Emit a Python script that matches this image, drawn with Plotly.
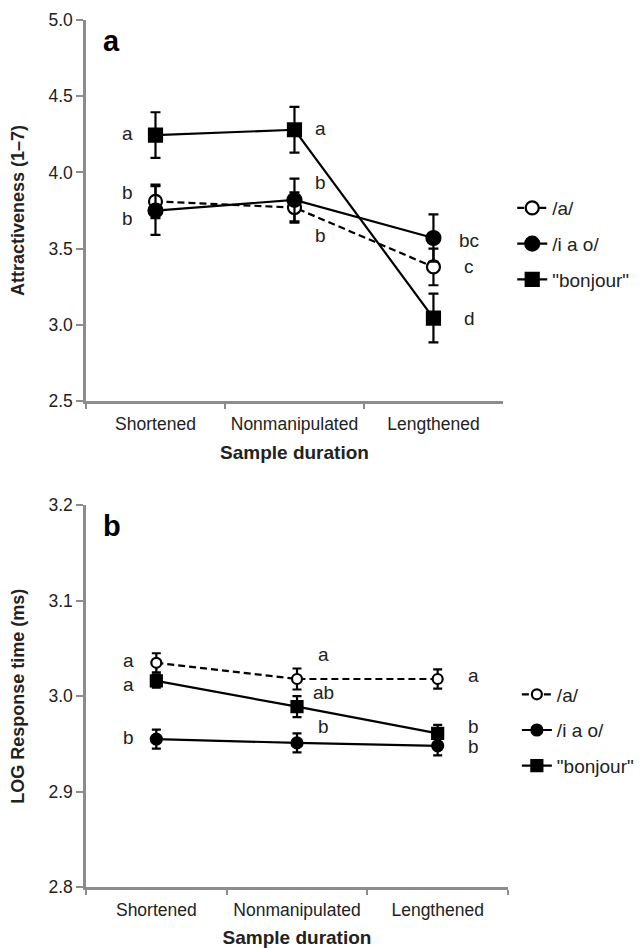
import plotly.graph_objects as go

categories = ["Shortened", "Nonmanipulated", "Lengthened"]
series_names = ["/a/", "/i a o/", "\"bonjour\""]

# Panel a: attractiveness
attr_a = [3.81, 3.77, 3.38]
attr_a_err = [0.11, 0.10, 0.12]
attr_iao = [3.75, 3.82, 3.57]
attr_iao_err = [0.16, 0.14, 0.155]
attr_bonjour = [4.245, 4.28, 3.045]
attr_bonjour_err = [0.15, 0.15, 0.16]

# Panel b: LOG response time
rt_a = [3.035, 3.018, 3.018]
rt_a_err = [0.010, 0.011, 0.010]
rt_iao = [2.955, 2.951, 2.948]
rt_iao_err = [0.010, 0.010, 0.010]
rt_bonjour = [3.016, 2.989, 2.961]
rt_bonjour_err = [0.007, 0.011, 0.009]

# significance letters (category, y position, text)
letters_a = [
    ("Shortened", 4.255, "a"), ("Shortened", 3.868, "b"), ("Shortened", 3.70, "b"),
    ("Nonmanipulated", 4.288, "a"), ("Nonmanipulated", 3.934, "b"), ("Nonmanipulated", 3.586, "b"),
    ("Lengthened", 3.553, "bc"), ("Lengthened", 3.383, "c"), ("Lengthened", 3.04, "d"),
]
letters_b = [
    ("Shortened", 3.0375, "a"), ("Shortened", 3.0124, "a"), ("Shortened", 2.957, "b"),
    ("Nonmanipulated", 3.044, "a"), ("Nonmanipulated", 3.004, "ab"), ("Nonmanipulated", 2.968, "b"),
    ("Lengthened", 3.022, "a"), ("Lengthened", 2.968, "b"), ("Lengthened", 2.947, "b"),
]
letter_shift = {"Shortened": -28, "Nonmanipulated": 26, "Lengthened": 36}

FONT = "Liberation Sans, Arial, sans-serif"
AXIS_GREY = "#8c8c8c"
TXT = "#222222"

fig = go.Figure()

styles = [
    dict(dash="7px,4px", symbol="circle", fill="white"),
    dict(dash="solid", symbol="circle", fill="black"),
    dict(dash="solid", symbol="square", fill="black"),
]
panel_a = [(attr_a, attr_a_err), (attr_iao, attr_iao_err), (attr_bonjour, attr_bonjour_err)]
panel_b = [(rt_a, rt_a_err), (rt_iao, rt_iao_err), (rt_bonjour, rt_bonjour_err)]
sizes_a = [13, 14, 13]
sizes_b = [10, 11, 11]

for i, (vals, errs) in enumerate(panel_a):
    st = styles[i]
    fig.add_trace(go.Scatter(
        x=categories, y=vals, name=series_names[i], mode="lines+markers",
        xaxis="x", yaxis="y", legend="legend", legendgroup="a%d" % i,
        line=dict(color="black", width=2.2, dash=st["dash"]),
        marker=dict(symbol=st["symbol"], size=sizes_a[i], color=st["fill"],
                    line=dict(color="black", width=2.2)),
        error_y=dict(type="data", array=errs, visible=True, color="black",
                     thickness=2.2, width=5),
    ))
for i, (vals, errs) in enumerate(panel_b):
    st = styles[i]
    fig.add_trace(go.Scatter(
        x=categories, y=vals, name=series_names[i], mode="lines+markers",
        xaxis="x2", yaxis="y2", legend="legend2", legendgroup="b%d" % i,
        line=dict(color="black", width=2.2, dash=st["dash"]),
        marker=dict(symbol=st["symbol"], size=sizes_b[i], color=st["fill"],
                    line=dict(color="black", width=2.2)),
        error_y=dict(type="data", array=errs, visible=True, color="black",
                     thickness=2.2, width=4.5),
    ))

annotations = []
for cat, yv, txt in letters_a:
    annotations.append(dict(x=cat, y=yv, xref="x", yref="y", text=txt, showarrow=False,
                            xshift=letter_shift[cat], font=dict(size=19, color=TXT, family=FONT)))
for cat, yv, txt in letters_b:
    annotations.append(dict(x=cat, y=yv, xref="x2", yref="y2", text=txt, showarrow=False,
                            xshift=letter_shift[cat], font=dict(size=19, color=TXT, family=FONT)))
annotations.append(dict(x=0.0616, y=0.976, xref="paper", yref="paper", text="<b>a</b>",
                        showarrow=False, xanchor="center", yanchor="middle",
                        font=dict(size=29, color="black", family=FONT)))
annotations.append(dict(x=0.0616, y=0.416, xref="paper", yref="paper", text="<b>b</b>",
                        showarrow=False, xanchor="center", yanchor="middle",
                        font=dict(size=29, color="black", family=FONT)))

xcommon = dict(
    type="category", range=[-0.5, 2.5], tickson="boundaries", ticks="outside",
    ticklen=5, tickwidth=2, tickcolor=AXIS_GREY, showline=True, linecolor=AXIS_GREY,
    linewidth=2.5, showgrid=False, zeroline=False, ticklabelstandoff=5,
    tickfont=dict(size=17.5, color=TXT, family=FONT),
    title=dict(text="<b>Sample duration</b>", font=dict(size=19, color=TXT, family=FONT), standoff=13),
)
ycommon = dict(
    ticks="outside", ticklen=7, tickwidth=2, tickcolor=AXIS_GREY, showline=True,
    linecolor=AXIS_GREY, linewidth=2.5, showgrid=False, zeroline=False,
    tickfont=dict(size=17.5, color=TXT, family=FONT), tickformat=".1f",
    ticklabelstandoff=0,
)

fig.update_layout(
    width=636, height=940,
    margin=dict(l=78, r=136, t=11.5, b=61.3, autoexpand=False),
    paper_bgcolor="white", plot_bgcolor="white",
    showlegend=True,
    xaxis=dict(xcommon, domain=[0, 0.988], anchor="y"),
    yaxis=dict(ycommon, domain=[0.5604, 1.0], anchor="x", range=[2.5, 5.0], dtick=0.5,
               title=dict(text="<b>Attractiveness (1–7)</b>", font=dict(size=18, color=TXT, family=FONT), standoff=20)),
    xaxis2=dict(xcommon, domain=[0, 1.0], anchor="y2"),
    yaxis2=dict(ycommon, domain=[0.0, 0.4402], anchor="x2", range=[2.8, 3.2], dtick=0.1,
                title=dict(text="<b>LOG Response time (ms)</b>", font=dict(size=18, color=TXT, family=FONT), standoff=20)),
    legend=dict(x=1.01, y=0.805, xanchor="left", yanchor="top", bgcolor="rgba(0,0,0,0)",
                font=dict(size=19, color=TXT, family=FONT), tracegroupgap=8),
    legend2=dict(x=1.021, y=0.244, xanchor="left", yanchor="top", bgcolor="rgba(0,0,0,0)",
                 font=dict(size=19, color=TXT, family=FONT), tracegroupgap=8),
    annotations=annotations,
)

fig.write_html("out.html")
